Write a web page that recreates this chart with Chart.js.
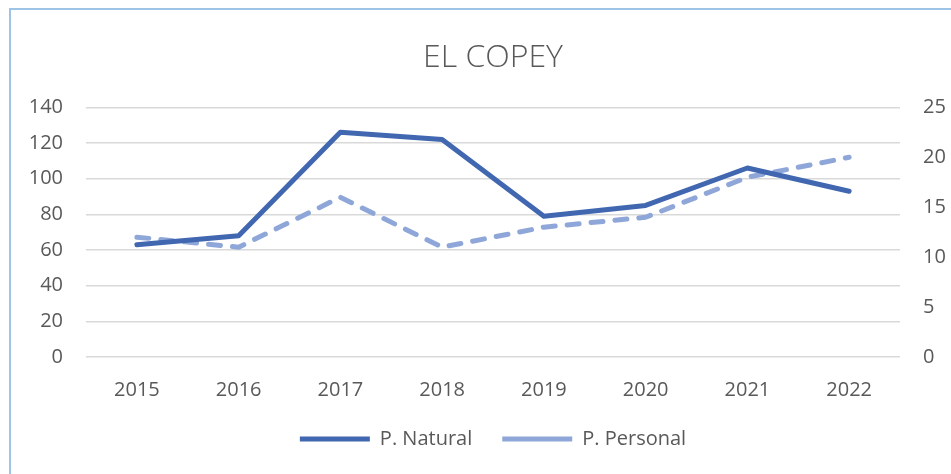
<!DOCTYPE html>
<html>
<head>
<meta charset="utf-8">
<script src="https://cdn.jsdelivr.net/npm/chart.js@4"></script>
<style>
  html, body { margin: 0; padding: 0; background: #ffffff; }
  #frame {
    position: absolute; left: 9px; top: 8px; width: 1000px; height: 600px;
    border: 2px solid #9DC3E6; box-sizing: border-box;
  }
  #wrap { position: absolute; left: 0; top: 0; width: 951px; height: 474px; }
</style>
</head>
<body>
<div id="frame"></div>
<div id="wrap"><canvas id="copey-chart" width="951" height="474"></canvas></div>
<script>
// data
var years = ["2015", "2016", "2017", "2018", "2019", "2020", "2021", "2022"];
var pNatural = [63, 68, 126, 122, 79, 85, 106, 93];
var pPersonal = [12, 11, 16, 11, 13, 14, 18, 20];

var textColor = "#595959";
var fontName = "'Open Sans', 'Liberation Sans', sans-serif";

new Chart(document.getElementById("copey-chart"), {
    type: 'line',
    data: {
        labels: years,
        datasets: [{
            label: "P. Natural",
            data: pNatural,
            yAxisID: 'y',
            borderColor: "#4167B1",
            backgroundColor: "#4167B1",
            borderWidth: 5,
            borderCapStyle: 'round',
            borderJoinStyle: 'round',
            pointRadius: 0,
            tension: 0,
            fill: false
        }, {
            label: "P. Personal",
            data: pPersonal,
            yAxisID: 'y1',
            borderColor: "#8FA7D8",
            backgroundColor: "#8FA7D8",
            borderWidth: 5,
            borderDash: [12, 12],
            borderCapStyle: 'round',
            borderJoinStyle: 'round',
            pointRadius: 0,
            tension: 0,
            fill: false
        }]
    },
    options: {
        responsive: false,
        animation: false,
        layout: { padding: { left: 0, right: 0, top: 0, bottom: 15 } },
        plugins: {
            title: {
                display: true,
                fullSize: false,
                text: 'EL COPEY',
                color: textColor,
                font: { family: fontName, size: 32, weight: '300' },
                padding: { top: 39, bottom: 30 }
            },
            legend: {
                position: 'bottom',
                fullSize: false,
                labels: {
                    color: textColor,
                    font: { family: fontName, size: 20 },
                    usePointStyle: true,
                    pointStyle: 'line',
                    pointStyleWidth: 70,
                    boxHeight: 5,
                    padding: 30
                }
            },
            tooltip: { enabled: false }
        },
        scales: {
            x: {
                offset: true,
                grid: { display: false, drawTicks: false },
                border: { display: false },
                ticks: { color: textColor, font: { family: fontName, size: 20 }, padding: 21 },
                afterFit: function (scale) { scale.height = 42; }
            },
            y: {
                position: 'left',
                min: 0,
                max: 140,
                grid: { color: "#D9D9D9", lineWidth: 1.5, drawTicks: false },
                border: { display: false },
                ticks: { stepSize: 20, color: textColor, font: { family: fontName, size: 20 }, padding: 23 },
                afterFit: function (scale) { scale.width = 86; }
            },
            y1: {
                position: 'right',
                min: 0,
                max: 25,
                grid: { display: false, drawTicks: false },
                border: { display: false },
                ticks: { stepSize: 5, color: textColor, font: { family: fontName, size: 20 }, padding: 23 },
                afterFit: function (scale) { scale.width = 51; }
            }
        }
    }
});
</script>
</body>
</html>
